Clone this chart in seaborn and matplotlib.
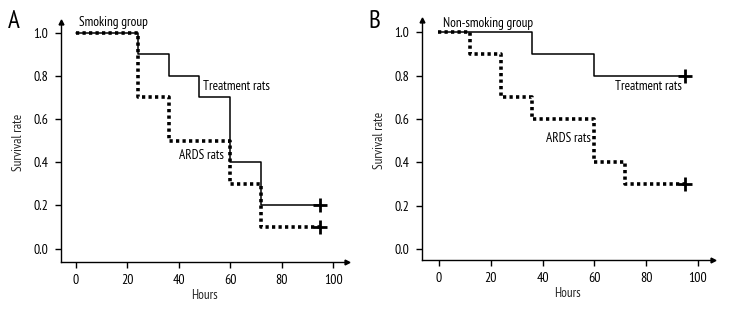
import matplotlib
matplotlib.use("Agg")
import matplotlib.pyplot as plt
import seaborn as sns
import pandas as pd

sns.set_style("white")
plt.rcParams['font.family'] = ['PT Sans Narrow', 'DejaVu Sans']

# Panel A (smoking group)
a_treat_t = [0, 24, 36, 48, 60, 72, 95]
a_treat_s = [1.0, 0.9, 0.8, 0.7, 0.4, 0.2, 0.2]
a_ards_t = [0, 24, 36, 60, 72, 95]
a_ards_s = [1.0, 0.7, 0.5, 0.3, 0.1, 0.1]
# Panel B (non-smoking group)
b_treat_t = [0, 36, 60, 95]
b_treat_s = [1.0, 0.9, 0.8, 0.8]
b_ards_t = [-0.5, 12, 24, 36, 60, 72, 95]
b_ards_s = [1.0, 0.9, 0.7, 0.6, 0.4, 0.3, 0.3]

xticks = [0, 20, 40, 60, 80, 100]
yticks = [0.0, 0.2, 0.4, 0.6, 0.8, 1.0]

fig = plt.figure(figsize=(7.32, 3.12), dpi=100)
axA = fig.add_axes([61/732, 1-262/312, (347-61)/732, (262-22)/312])
axB = fig.add_axes([422/732, 1-260/312, (713-422)/732, (260-20)/312])


def panel(ax, tt, ts, at, as_, xlim, ylim, texts, letter, letter_x):
    dt = pd.DataFrame({"t": tt, "s": ts})
    da = pd.DataFrame({"t": at, "s": as_})
    sns.lineplot(data=da, x="t", y="s", ax=ax, estimator=None, drawstyle="steps-post",
                 color="black", lw=2.6, linestyle=(0, (0.9, 0.9)), dash_capstyle="butt")
    sns.lineplot(data=dt, x="t", y="s", ax=ax, estimator=None, drawstyle="steps-post",
                 color="black", lw=1.1)
    cens = pd.DataFrame({"t": [tt[-1], at[-1]], "s": [ts[-1], as_[-1]]})
    sns.scatterplot(data=cens, x="t", y="s", ax=ax, marker="+", s=110,
                    color="black", linewidth=2.0, zorder=5)
    ax.set_xlim(*xlim)
    ax.set_ylim(*ylim)
    ax.set_xticks(xticks)
    ax.set_yticks(yticks)
    ax.set_xticklabels([str(v) for v in xticks])
    ax.set_yticklabels([f"{v:.1f}" for v in yticks])
    for sp in ["top", "right"]:
        ax.spines[sp].set_visible(False)
    for sp in ["left", "bottom"]:
        ax.spines[sp].set_linewidth(1.0)
        ax.spines[sp].set_color("black")
    ax.tick_params(axis="both", direction="out", length=4, width=1, labelsize=10,
                   colors="black", bottom=True, left=True, pad=5)
    ax.set_xlabel("Hours", fontsize=9.5, labelpad=1)
    ax.set_ylabel("Survival rate", fontsize=9.5, labelpad=6)
    # axis arrows
    ax.plot(1, 0, ">", transform=ax.transAxes, clip_on=False, color="black", ms=3.5)
    ax.plot(0, 1, "^", transform=ax.transAxes, clip_on=False, color="black", ms=3.5)
    for (x, y, s) in texts:
        ax.text(x, y, s, fontsize=9.5, ha="left", va="center", color="black")
    fig.text(letter_x, 1-21/312, letter, fontsize=18, ha="left", va="center", color="black")
    ax.set_facecolor("white")


panel(axA, a_treat_t, a_treat_s, a_ards_t, a_ards_s,
      (-5.84, 105.4), (-0.0616, 1.0495),
      [(1.0, 1.045, "Smoking group"), (49.4, 0.753, "Treatment rats"),
       (40.0, 0.43, "ARDS rats")], "A", 8/732)
panel(axB, b_treat_t, b_treat_s, b_ards_t, b_ards_s,
      (-6.56, 105.8), (-0.0508, 1.057),
      [(1.4, 1.04, "Non-smoking group"), (68.0, 0.75, "Treatment rats"),
       (41.2, 0.51, "ARDS rats")], "B", 368/732)

fig.savefig("out.png", dpi=100, facecolor="white")
